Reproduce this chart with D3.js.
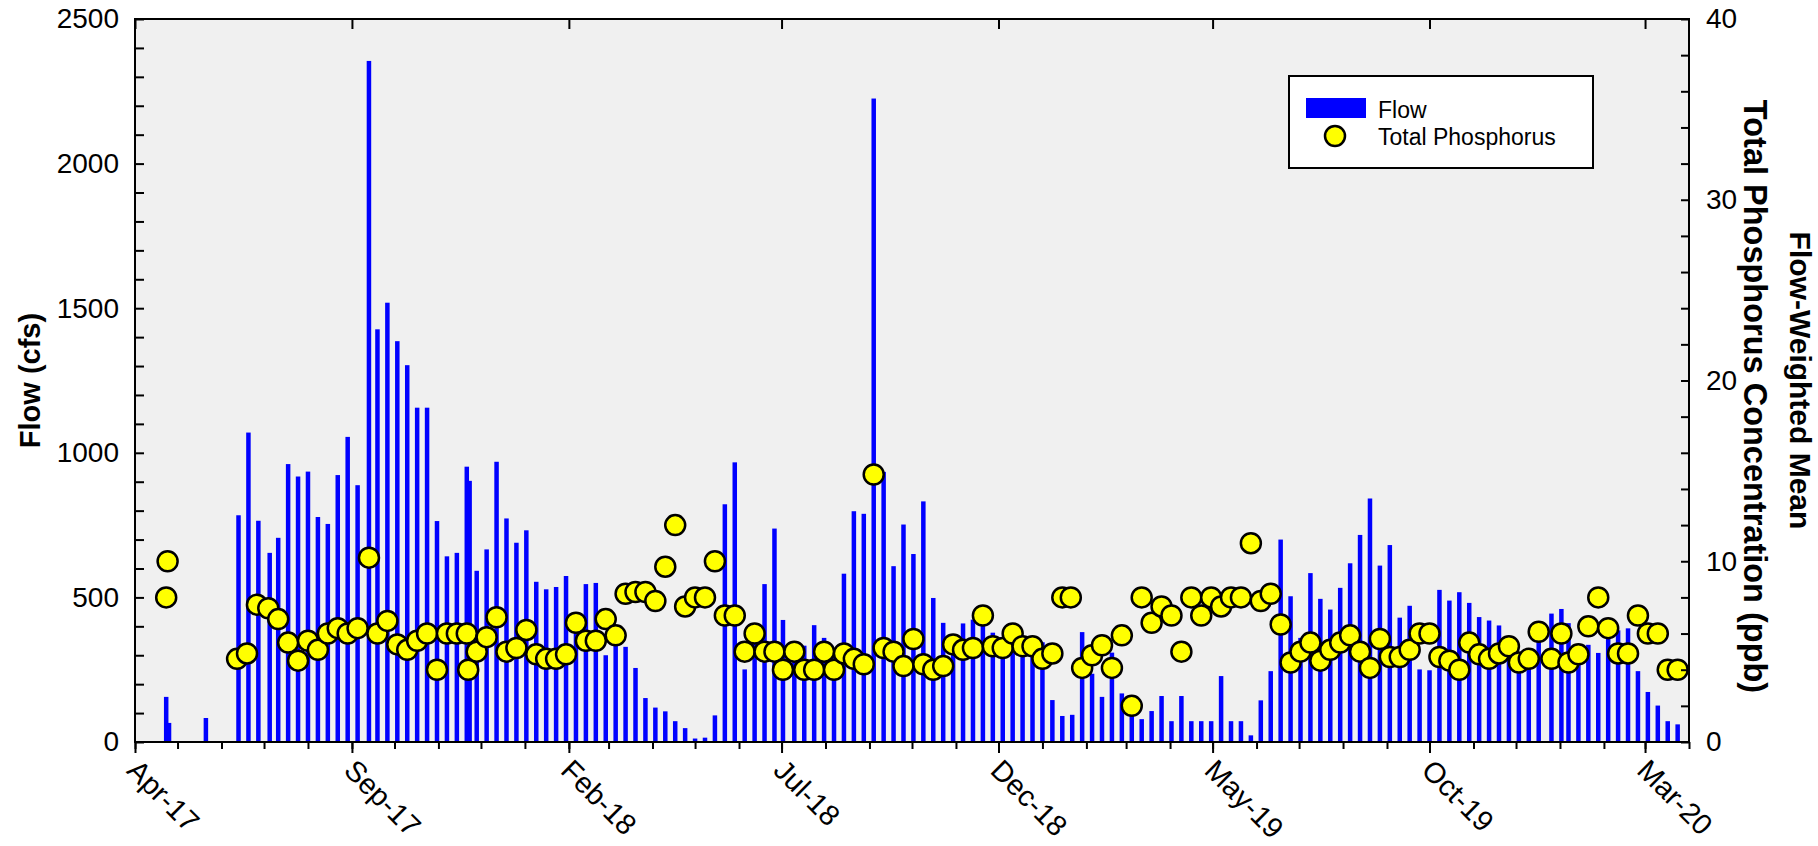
<!DOCTYPE html>
<html lang="en">
<head>
    <meta charset="UTF-8">
    <title>Flow and Total Phosphorus</title>
    <script src="https://cdnjs.cloudflare.com/ajax/libs/d3/7.8.5/d3.min.js"></script>
    <style>
        body { margin: 0; background: #fff; }
        text { font-family: "Liberation Sans", Arial, sans-serif; }
    </style>
</head>
<body>
    <div id="wrapper"></div>
    <script>
        // weekly flow (cfs)
        const flowDates = [
            "2017-04-23","2017-04-25","2017-05-21","2017-06-13","2017-06-20","2017-06-27","2017-07-05","2017-07-11","2017-07-18","2017-07-25",
            "2017-08-01","2017-08-08","2017-08-15","2017-08-22","2017-08-29","2017-09-05","2017-09-13","2017-09-19","2017-09-26","2017-10-03",
            "2017-10-10","2017-10-17","2017-10-24","2017-10-31","2017-11-07","2017-11-14","2017-11-21","2017-11-23","2017-11-28","2017-12-05",
            "2017-12-12","2017-12-19","2017-12-26","2018-01-02","2018-01-09","2018-01-16","2018-01-23","2018-01-30","2018-02-06","2018-02-13",
            "2018-02-20","2018-02-27","2018-03-06","2018-03-13","2018-03-20","2018-03-27","2018-04-03","2018-04-10","2018-04-17","2018-04-24",
            "2018-05-01","2018-05-08","2018-05-15","2018-05-22","2018-05-29","2018-06-05","2018-06-12","2018-06-19","2018-06-26","2018-07-02",
            "2018-07-10","2018-07-17","2018-07-24","2018-07-31","2018-08-07","2018-08-14","2018-08-21","2018-08-28","2018-09-04","2018-09-11",
            "2018-09-18","2018-09-25","2018-10-02","2018-10-09","2018-10-16","2018-10-23","2018-10-30","2018-11-06","2018-11-13","2018-11-20",
            "2018-11-27","2018-12-04","2018-12-11","2018-12-18","2018-12-25","2019-01-01","2019-01-08","2019-01-15","2019-01-22","2019-01-29",
            "2019-02-05","2019-02-12","2019-02-19","2019-02-26","2019-03-05","2019-03-12","2019-03-19","2019-03-26","2019-04-02","2019-04-09",
            "2019-04-16","2019-04-23","2019-04-30","2019-05-07","2019-05-14","2019-05-21","2019-05-28","2019-06-04","2019-06-11","2019-06-18",
            "2019-06-25","2019-07-02","2019-07-09","2019-07-16","2019-07-23","2019-07-30","2019-08-06","2019-08-13","2019-08-20","2019-08-27",
            "2019-09-03","2019-09-10","2019-09-17","2019-09-24","2019-10-01","2019-10-08","2019-10-15","2019-10-22","2019-10-29","2019-11-05",
            "2019-11-12","2019-11-19","2019-11-26","2019-12-03","2019-12-10","2019-12-17","2019-12-26","2020-01-02","2020-01-07","2020-01-14",
            "2020-01-21","2020-01-28","2020-02-04","2020-02-11","2020-02-18","2020-02-25","2020-03-03","2020-03-10","2020-03-17","2020-03-24"
        ]
        const flowValues = [
            156, 66, 83, 784, 1070, 765, 654, 706, 961, 918,
            935, 778, 754, 923, 1055, 888, 2355, 1427, 1519, 1386,
            1303, 1156, 1156, 764, 642, 654, 952, 903, 592, 666,
            969, 773, 689, 732, 554, 528, 536, 574, 400, 546,
            550, 300, 360, 329, 256, 152, 119, 106, 72, 48,
            12, 15, 92, 822, 967, 251, 345, 546, 738, 422,
            310, 333, 404, 360, 300, 582, 798, 789, 2225, 934,
            608, 752, 650, 832, 498, 412, 340, 410, 423, 440,
            378, 350, 380, 340, 340, 345, 145, 90, 94, 380,
            236, 156, 309, 168, 125, 79, 107, 159, 72, 159,
            72, 72, 72, 228, 72, 72, 23, 144, 245, 700,
            504, 360, 584, 495, 458, 533, 618, 716, 842, 610,
            681, 430, 471, 251, 248, 526, 489, 518, 481, 432,
            420, 403, 330, 300, 310, 380, 444, 460, 411, 330,
            336, 308, 390, 386, 393, 245, 173, 126, 72, 61
        ]

        // flow-weighted mean total phosphorus (ppb)
        const tpDates = [
            "2017-04-23","2017-04-24","2017-06-12","2017-06-19","2017-06-26","2017-07-04","2017-07-11","2017-07-18","2017-07-25","2017-08-01",
            "2017-08-08","2017-08-15","2017-08-22","2017-08-29","2017-09-05","2017-09-13","2017-09-19","2017-09-26","2017-10-03","2017-10-10",
            "2017-10-17","2017-10-24","2017-10-31","2017-11-07","2017-11-14","2017-11-21","2017-11-22","2017-11-28","2017-12-05","2017-12-12",
            "2017-12-19","2017-12-26","2018-01-02","2018-01-09","2018-01-16","2018-01-23","2018-01-30","2018-02-06","2018-02-13","2018-02-20",
            "2018-02-27","2018-03-06","2018-03-13","2018-03-20","2018-03-27","2018-04-03","2018-04-10","2018-04-17","2018-04-24","2018-05-01",
            "2018-05-08","2018-05-15","2018-05-22","2018-05-29","2018-06-05","2018-06-12","2018-06-19","2018-06-26","2018-07-02","2018-07-10",
            "2018-07-17","2018-07-24","2018-07-31","2018-08-07","2018-08-14","2018-08-21","2018-08-28","2018-09-04","2018-09-11","2018-09-18",
            "2018-09-25","2018-10-02","2018-10-09","2018-10-16","2018-10-23","2018-10-30","2018-11-06","2018-11-13","2018-11-20","2018-11-27",
            "2018-12-04","2018-12-11","2018-12-18","2018-12-25","2019-01-01","2019-01-08","2019-01-15","2019-01-21","2019-01-29","2019-02-05",
            "2019-02-12","2019-02-19","2019-02-26","2019-03-05","2019-03-12","2019-03-19","2019-03-26","2019-04-02","2019-04-09","2019-04-16",
            "2019-04-23","2019-04-30","2019-05-07","2019-05-14","2019-05-21","2019-05-28","2019-06-04","2019-06-11","2019-06-18","2019-06-25",
            "2019-07-02","2019-07-09","2019-07-16","2019-07-23","2019-07-30","2019-08-06","2019-08-13","2019-08-20","2019-08-27","2019-09-03",
            "2019-09-10","2019-09-17","2019-09-24","2019-10-01","2019-10-08","2019-10-15","2019-10-22","2019-10-29","2019-11-05","2019-11-12",
            "2019-11-19","2019-11-26","2019-12-03","2019-12-10","2019-12-17","2019-12-26","2020-01-02","2020-01-07","2020-01-14","2020-01-21",
            "2020-01-28","2020-02-04","2020-02-11","2020-02-18","2020-02-25","2020-03-03","2020-03-10","2020-03-17","2020-03-24"
        ]
        const tpValues = [
            8.0, 10.0, 4.6, 4.9, 7.6, 7.4, 6.8, 5.5, 4.5, 5.6,
            5.1, 6.0, 6.3, 6.0, 6.3, 10.2, 6.0, 6.7, 5.4, 5.1,
            5.6, 6.0, 4.0, 6.0, 6.0, 6.0, 4.0, 5.0, 5.8, 6.9,
            5.0, 5.2, 6.2, 4.85, 4.6, 4.6, 4.85, 6.6, 5.6, 5.6,
            6.8, 5.9, 8.2, 8.3, 8.3, 7.8, 9.7, 12.0, 7.5, 8.0,
            8.0, 10.0, 7.0, 7.0, 5.0, 6.0, 5.0, 5.0, 4.0, 5.0,
            4.0, 4.0, 5.0, 4.0, 4.9, 4.6, 4.3, 14.8, 5.2, 5.0,
            4.2, 5.7, 4.3, 4.0, 4.2, 5.4, 5.1, 5.2, 7.0, 5.3,
            5.2, 6.0, 5.3, 5.3, 4.6, 4.9, 8.0, 8.0, 4.1, 4.8,
            5.35, 4.1, 5.9, 2.0, 8.0, 6.6, 7.5, 7.0, 5.0, 8.0,
            7.0, 8.0, 7.5, 8.0, 8.0, 11.0, 7.8, 8.2, 6.5, 4.4,
            5.0, 5.5, 4.5, 5.1, 5.5, 5.9, 5.0, 4.1, 5.7, 4.7,
            4.7, 5.1, 6.0, 6.0, 4.7, 4.5, 4.0, 5.5, 4.85, 4.6,
            4.9, 5.3, 4.4, 4.6, 6.1, 4.6, 6.0, 4.4, 4.85, 6.4,
            8.0, 6.3, 4.9, 4.9, 7.0, 6.0, 6.0, 4.0, 4.0
        ]

        const flowTicks = [0, 500, 1000, 1500, 2000, 2500]
        const tpTicks = [0, 10, 20, 30, 40]
        const monthLabels = ["Apr-17", "Sep-17", "Feb-18", "Jul-18", "Dec-18", "May-19", "Oct-19", "Mar-20"]

        function drawChart() {
            const dateParser = d3.timeParse('%Y-%m-%d')
            const labelParser = d3.timeParse('%b-%y')
            const flowData = flowDates.map((d, i) => ({ date: dateParser(d), value: flowValues[i] }))
            const tpData = tpDates.map((d, i) => ({ date: dateParser(d), value: tpValues[i] }))
            const labelDates = monthLabels.map(labelParser)

            let dimensions = {
                width: 1818,
                height: 846,
                margin: { top: 19, right: 129, bottom: 104, left: 135 }
            }
            dimensions.boundedWidth = dimensions.width - dimensions.margin.left - dimensions.margin.right
            dimensions.boundedHeight = dimensions.height - dimensions.margin.top - dimensions.margin.bottom

            const svg = d3.select('#wrapper')
                .append('svg')
                    .attr('width', dimensions.width)
                    .attr('height', dimensions.height)

            const bounds = svg.append('g')
                .attr('transform', `translate(${dimensions.margin.left},${dimensions.margin.top})`)

            const xScale = d3.scaleTime()
                .domain([new Date(2017, 3, 1), new Date(2020, 3, 1)])
                .range([0, dimensions.boundedWidth])
            const yScale = d3.scaleLinear()
                .domain([0, 2500])
                .range([dimensions.boundedHeight, 0])
            const tpScale = d3.scaleLinear()
                .domain([0, 40])
                .range([dimensions.boundedHeight, 0])

            bounds.append('rect')
                .attr('width', dimensions.boundedWidth)
                .attr('height', dimensions.boundedHeight)
                .attr('fill', '#f0f0f0')

            // flow bars
            const barWidth = 4.5
            bounds.append('g')
                .selectAll('rect')
                .data(flowData)
                .join('rect')
                    .attr('x', d => xScale(d.date) - barWidth / 2)
                    .attr('y', d => yScale(d.value))
                    .attr('width', barWidth)
                    .attr('height', d => dimensions.boundedHeight - yScale(d.value))
                    .attr('fill', '#0000ff')

            // phosphorus points
            bounds.append('g')
                .selectAll('circle')
                .data(tpData)
                .join('circle')
                    .attr('cx', d => xScale(d.date))
                    .attr('cy', d => tpScale(d.value))
                    .attr('r', 10)
                    .attr('fill', '#ffff00')
                    .attr('stroke', '#000')
                    .attr('stroke-width', 2.5)

            const styleAxis = g => {
                g.select('.domain').remove()
                g.selectAll('line').attr('stroke', '#000').attr('stroke-width', 2)
                g.selectAll('text')
                    .attr('font-size', 28)
                    .attr('font-family', '"Liberation Sans", Arial, sans-serif')
                    .attr('fill', '#000')
            }

            // left axis, ticks pointing in
            bounds.append('g')
                .call(d3.axisLeft(yScale)
                    .tickValues(yScale.ticks(25))
                    .tickSizeInner(-9)
                    .tickSizeOuter(0)
                    .tickPadding(16)
                    .tickFormat(d => flowTicks.includes(d) ? d : ''))
                .call(styleAxis)

            // right axis
            bounds.append('g')
                .attr('transform', `translate(${dimensions.boundedWidth},0)`)
                .call(d3.axisRight(tpScale)
                    .tickValues(tpScale.ticks(20))
                    .tickSizeInner(-8)
                    .tickSizeOuter(0)
                    .tickPadding(17)
                    .tickFormat(d => tpTicks.includes(d) ? d : ''))
                .call(styleAxis)

            // monthly minor ticks at the bottom
            bounds.append('g')
                .attr('transform', `translate(0,${dimensions.boundedHeight})`)
                .call(d3.axisBottom(xScale)
                    .ticks(d3.timeMonth.every(1))
                    .tickSize(7)
                    .tickFormat(''))
                .call(styleAxis)

            // labelled ticks at the bottom
            const xAxis = bounds.append('g')
                .attr('transform', `translate(0,${dimensions.boundedHeight})`)
                .call(d3.axisBottom(xScale)
                    .tickValues(labelDates)
                    .tickSize(11)
                    .tickFormat((d, i) => monthLabels[i]))
                .call(styleAxis)
            xAxis.selectAll('text')
                .attr('font-size', 29)
                .attr('y', 0)
                .attr('dy', 0)
                .attr('text-anchor', 'start')
                .attr('transform', 'translate(-10,30) rotate(45)')

            // top ticks
            bounds.append('g')
                .call(d3.axisTop(xScale)
                    .tickValues(labelDates)
                    .tickSizeInner(-10)
                    .tickSizeOuter(0)
                    .tickFormat(''))
                .call(styleAxis)

            bounds.append('rect')
                .attr('width', dimensions.boundedWidth)
                .attr('height', dimensions.boundedHeight)
                .attr('fill', 'none')
                .attr('stroke', '#000')
                .attr('stroke-width', 2)

            // axis titles
            const midY = dimensions.margin.top + dimensions.boundedHeight / 2
            svg.append('text')
                .attr('transform', `translate(40,${midY}) rotate(-90)`)
                .attr('text-anchor', 'middle')
                .attr('font-size', 29)
                .attr('font-weight', 'bold')
                .text('Flow (cfs)')
            svg.append('text')
                .attr('transform', `translate(1790,${midY}) rotate(90)`)
                .attr('text-anchor', 'middle')
                .attr('font-size', 30)
                .attr('font-weight', 'bold')
                .text('Flow-Weighted Mean')
            svg.append('text')
                .attr('transform', `translate(1744,${midY + 16}) rotate(90)`)
                .attr('text-anchor', 'middle')
                .attr('font-size', 32.5)
                .attr('font-weight', 'bold')
                .text('Total Phosphorus Concentration (ppb)')

            // legend
            const legend = svg.append('g').attr('transform', 'translate(1289,76)')
            legend.append('rect')
                .attr('width', 304)
                .attr('height', 92)
                .attr('fill', '#fff')
                .attr('stroke', '#000')
                .attr('stroke-width', 2)
            legend.append('rect')
                .attr('x', 17)
                .attr('y', 22)
                .attr('width', 60)
                .attr('height', 20)
                .attr('fill', '#0000ff')
            legend.append('circle')
                .attr('cx', 46)
                .attr('cy', 60)
                .attr('r', 10)
                .attr('fill', '#ffff00')
                .attr('stroke', '#000')
                .attr('stroke-width', 2.5)
            legend.append('text')
                .attr('x', 89)
                .attr('y', 42)
                .attr('font-size', 23)
                .text('Flow')
            legend.append('text')
                .attr('x', 89)
                .attr('y', 69)
                .attr('font-size', 23)
                .text('Total Phosphorus')
        }

        drawChart()
    </script>
</body>
</html>
